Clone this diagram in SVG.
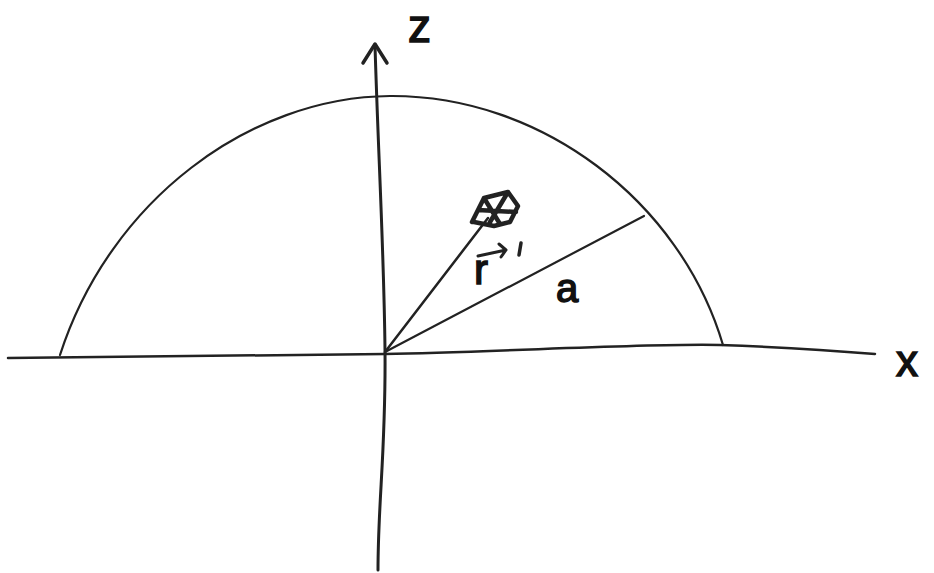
<svg xmlns="http://www.w3.org/2000/svg" width="934" height="573" viewBox="0 0 934 573">
<style>
.ln{fill:none;stroke:#222;stroke-linecap:round;stroke-linejoin:round}
.t{font-family:"Liberation Sans",Arial,sans-serif;fill:#111;stroke:#111;stroke-width:1.5}
</style>
<rect width="934" height="573" fill="#fff"/>
<g id="axes">
<path class="ln" stroke-width="2.5" d="M8 358 L385 354 C500 352 650 343 720 345 C780 347 840 351 875 354"/>
<path class="ln" stroke-width="3" d="M375 45 C378 150 384 250 385 350 C386 450 378 500 378 570"/>
<path class="ln" stroke-width="3.5" d="M363 63 L375 44 L387 63"/>
</g>
<g id="arc">
<path class="ln" stroke-width="2.2" d="M60 355 C110 200 250 97 390 96 C540 95 680 200 723 345"/>
</g>
<g id="connectors">
<path class="ln" stroke-width="2.2" d="M385 352 L644 216"/>
<path class="ln" stroke-width="2.5" d="M385 352 L488 218"/>
</g>
<g id="charge">
<path class="ln" stroke-width="4.5" d="M472 222 L484 198 L508 192 L518 206 L510 222 L494 226 L474 222 M484 198 L500 224 M508 192 L490 222 M478 210 L516 212"/>
</g>
<g id="labels">
<text class="t" x="408" y="42" font-size="46">z</text>
<text class="t" x="896" y="376" font-size="44">x</text>
<text class="t" x="474" y="284" font-size="42">r</text>
<path class="ln" stroke-width="3" d="M478 256 L506 250 M499 244 L506 250 L501 257"/>
<path class="ln" stroke-width="3.5" d="M521 243 L519 255"/>
<text class="t" x="556" y="302" font-size="40">a</text>
</g>
</svg>
